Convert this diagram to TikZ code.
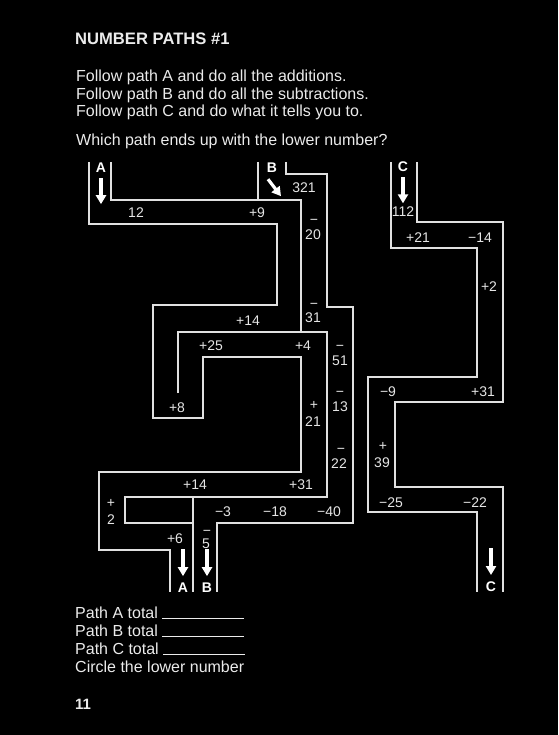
\documentclass[tikz,border=0pt]{standalone}
\usepackage{fontspec}
\setmainfont{Liberation Sans}
\usetikzlibrary{arrows.meta}

\begin{document}
\begin{tikzpicture}[
    x=1pt, y=-1pt,
    wall/.style={line width=1.7pt, draw=white!88!black},
    num/.style={anchor=base, inner sep=0pt, text=white!90!black, font=\fontsize{14}{16}\selectfont},
    tag/.style={anchor=base, inner sep=0pt, text=white, font=\fontsize{14}{16}\selectfont\bfseries},
    body/.style={anchor=base west, inner sep=0pt, text=white!92!black, font=\fontsize{16}{18}\selectfont},
    dir/.style={white, line width=3.2pt, -{Triangle[length=9pt, width=10pt]}},
  ]
    \useasboundingbox[fill=black] (0,0) rectangle (558,735);

    \node[body, font=\fontsize{16.6}{18}\selectfont\bfseries] (title) at (75,45) {NUMBER PATHS \#1};
    \node[body] (rule1) at (76,82) {Follow path A and do all the additions.};
    \node[body] (rule2) at (76,100) {Follow path B and do all the subtractions.};
    \node[body] (rule3) at (76,117) {Follow path C and do what it tells you to.};
    \node[body] (ask) at (76,146) {Which path ends up with the lower number?};

    % walls of A and B
    \draw[wall] (89,162) -- (89,224) -- (277,224) -- (277,305) -- (153,305) -- (153,418)
      -- (203,418) -- (203,357) -- (301,357) -- (301,472) -- (99,472) -- (99,550)
      -- (170,550) -- (170,592);
    \draw[wall] (111,162) -- (111,200) -- (301,200) -- (301,332);
    \draw[wall] (178,393) -- (178,332) -- (327,332) -- (327,497) -- (125,497) -- (125,523) -- (193,523);
    \draw[wall] (193,497) -- (193,592);
    \draw[wall] (258,162) -- (258,200);
    \draw[wall] (286,162) -- (286,174) -- (327,174) -- (327,307) -- (353,307) -- (353,523)
      -- (217,523) -- (217,592);

    % walls of C
    \draw[wall] (391,162) -- (391,248) -- (477,248) -- (477,377) -- (368,377) -- (368,512)
      -- (477,512) -- (477,592);
    \draw[wall] (417,162) -- (417,222) -- (503,222) -- (503,402) -- (395,402) -- (395,487)
      -- (503,487) -- (503,592);

    % path A
    \node[tag] (a-in) at (101,173) {A};
    \node[num] (a12) at (136,218) {12};
    \node[num] (a9) at (257,218) {+9};
    \node[num] (a14) at (248,325) {+14};
    \node[num] (a25) at (211,350) {+25};
    \node[num] (a4) at (303,350) {+4};
    \node[num] (a8) at (177,412) {+8};
    \node[num] (a21s) at (314,409) {+};
    \node[num] (a21) at (313,426) {21};
    \node[num] (a14b) at (195,489) {+14};
    \node[num] (a31) at (301,489) {+31};
    \node[num] (a2s) at (111,507) {+};
    \node[num] (a2) at (111,524) {2};
    \node[num] (a6) at (175,543) {+6};
    \node[tag] (a-out) at (183,592) {A};

    % path B
    \node[tag] (b-in) at (272,173) {B};
    \node[num] (b321) at (304,193) {321};
    \node[num] (b20s) at (314,225) {−};
    \node[num] (b20) at (313,240) {20};
    \node[num] (b31s) at (314,308) {−};
    \node[num] (b31) at (313,322) {31};
    \node[num] (b51s) at (340,350) {−};
    \node[num] (b51) at (340,365) {51};
    \node[num] (b13s) at (340,396) {−};
    \node[num] (b13) at (340,411) {13};
    \node[num] (b22s) at (341,453) {−};
    \node[num] (b22) at (339,468) {22};
    \node[num] (b3) at (223,516) {−3};
    \node[num] (b18) at (275,516) {−18};
    \node[num] (b40) at (329,516) {−40};
    \node[num] (b5s) at (207,535) {−};
    \node[num] (b5) at (206,548) {5};
    \node[tag] (b-out) at (207,592) {B};

    % path C
    \node[tag] (c-in) at (403,172) {C};
    \node[num] (c112) at (403,217) {112};
    \node[num] (c21) at (418,242) {+21};
    \node[num] (c14) at (480,242) {−14};
    \node[num] (c2) at (489,291) {+2};
    \node[num] (c9) at (388,396) {−9};
    \node[num] (c31) at (483,396) {+31};
    \node[num] (c39s) at (383,450) {+};
    \node[num] (c39) at (382,467) {39};
    \node[num] (c25) at (391,507) {−25};
    \node[num] (c22) at (475,507) {−22};
    \node[tag] (c-out) at (491,591) {C};

    % direction arrows
    \draw[dir] (a-in.south) ++(0,5) -- ++(0,26);
    \draw[dir] (b-in.south) ++(-4,6) -- ++(13,17);
    \draw[dir] (c-in.south) ++(0,5) -- ++(0,26);
    \draw[dir] (a-out.north) ++(0,-33) -- ++(0,27);
    \draw[dir] (b-out.north) ++(0,-33) -- ++(0,27);
    \draw[dir] (c-out.north) ++(0,-33) -- ++(0,27);

    \node[body] (totA) at (75,618) {Path A total \rule[-1pt]{82pt}{0.8pt}};
    \node[body] (totB) at (75,636) {Path B total \rule[-1pt]{82pt}{0.8pt}};
    \node[body] (totC) at (75,654) {Path C total \rule[-1pt]{82pt}{0.8pt}};
    \node[body] (circ) at (75,672) {Circle the lower number};
    \node[body, font=\fontsize{15}{18}\selectfont\bfseries] (page) at (75,709) {11};
  \end{tikzpicture}
\end{document}
